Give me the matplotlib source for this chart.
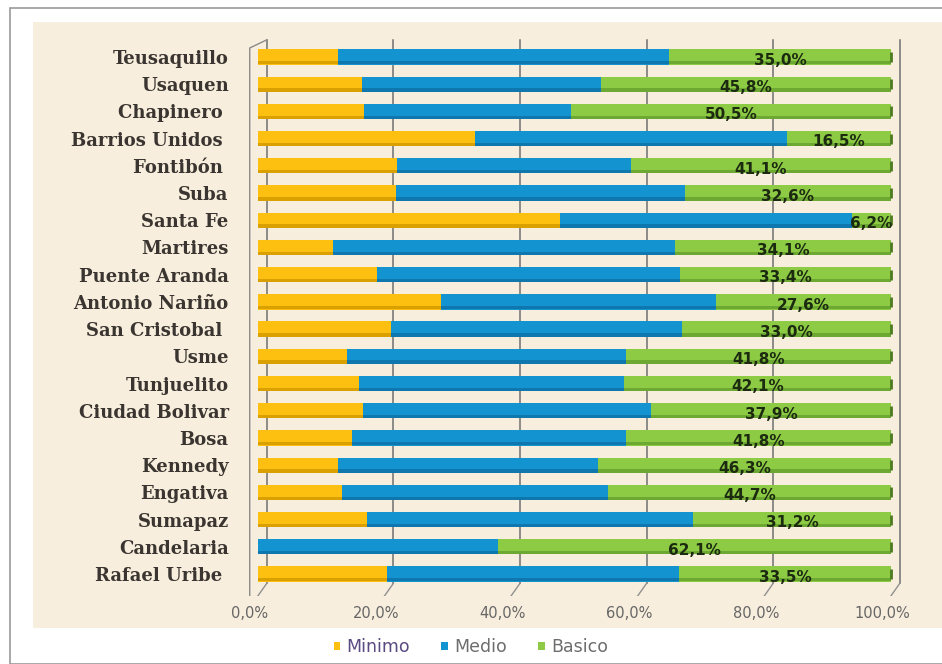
import numpy as np
import matplotlib.pyplot as plt
from matplotlib.patches import Rectangle

localidades = ['Teusaquillo', 'Usaquen', 'Chapinero ', 'Barrios Unidos ', 'Fontibón ',
               'Suba', 'Santa Fe', 'Martires', 'Puente Aranda', 'Antonio Nariño',
               'San Cristobal ', 'Usme', 'Tunjuelito', 'Ciudad Bolivar', 'Bosa',
               'Kennedy', 'Engativa', 'Sumapaz', 'Candelaria', 'Rafael Uribe ']
minimo = [12.6, 16.4, 16.7, 34.3, 21.9, 21.8, 47.7, 11.9, 18.8, 28.9,
          21.0, 14.0, 16.0, 16.6, 14.8, 12.7, 13.2, 17.2, 0.0, 20.4]
basico = [35.0, 45.8, 50.5, 16.5, 41.1, 32.6, 6.2, 34.1, 33.4, 27.6,
          33.0, 41.8, 42.1, 37.9, 41.8, 46.3, 44.7, 31.2, 62.1, 33.5]
medio = [100 - m - b for m, b in zip(minimo, basico)]
ticks = [0, 20, 40, 60, 80, 100]

c_min = '#FDC010'
c_med = '#1393D0'
c_bas = '#8DCB45'

fig = plt.figure(figsize=(9.42, 6.64), dpi=100)
# outer frame and beige panel
fig.patches.append(Rectangle((10/942, 0), 940/942, 656/664, transform=fig.transFigure,
                             facecolor='white', edgecolor='#9a9a9a', lw=1.2, zorder=-3))
fig.patches.append(Rectangle((33/942, 36/664), 909/942, 606/664, transform=fig.transFigure,
                             facecolor='#F8EEDD', edgecolor='none', zorder=-2))

ax = fig.add_axes([245.3/942, 68.2/664, 671/942, 560.6/664])
ax.set_facecolor('none')
y = np.arange(len(localidades))
h = 0.56

ax.barh(y, minimo, height=h, color=c_min, label='Minimo', zorder=3)
ax.barh(y, medio, left=minimo, height=h, color=c_med, label='Medio', zorder=3)
left_b = [m + d for m, d in zip(minimo, medio)]
ax.barh(y, basico, left=left_b, height=h, color=c_bas, label='Basico', zorder=3)
# darker lower edge to give the cylinders some depth
ax.barh(y + h * 0.38, minimo, height=h * 0.22, color='#D9A000', zorder=4)
ax.barh(y + h * 0.38, medio, left=minimo, height=h * 0.22, color='#0E77AE', zorder=4)
ax.barh(y + h * 0.38, basico, left=left_b, height=h * 0.22, color='#6DA832', zorder=4)
ax.scatter([100] * len(y), y, marker='|', s=60, color='#4E7A22', lw=2, zorder=5)

for yi, lb, b in zip(y, left_b, basico):
    ax.text(lb + b / 2, yi + 0.12, f'{b:.1f}%'.replace('.', ','), ha='center', va='center',
            fontsize=11, fontweight='bold', color='#1c2a10', zorder=6)

# 3D-style grid walls
for t in ticks:
    ax.plot([t + 1.4, t + 1.4], [-0.63, 19.34], color='#707070', lw=1.1, zorder=1)
    ax.plot([t + 1.4, t], [19.34, 19.8], color='#909090', lw=1.0, zorder=1)
ax.plot([-1.3, -1.3, 1.4], [19.8, -0.33, -0.63], color='#8a8a8a', lw=1.0, zorder=1)

ax.set_xlim(-2, 104)
ax.set_ylim(19.8, -0.8)
ax.set_yticks(y)
ax.set_yticklabels(localidades, fontsize=13, fontweight='bold', fontfamily='DejaVu Serif',
                   color='#3a3530')
# labels sit a little left of the bar positions (3D projection)
ax.set_xticks([t - 1.3 for t in ticks])
ax.set_xticklabels([f'{t:.1f}%'.replace('.', ',') for t in ticks], fontsize=10.5, color='#666666')
ax.tick_params(axis='y', length=0, pad=12)
ax.tick_params(axis='x', length=0, pad=7)
for s in ax.spines.values():
    s.set_visible(False)

leg = fig.legend(loc='center', bbox_to_anchor=(0.5, 17/664), ncol=3, frameon=False,
                 fontsize=12.5, handlelength=0.35, handleheight=0.35, handletextpad=0.4,
                 columnspacing=1.8)
for txt, col in zip(leg.get_texts(), ['#5a4a82', '#6d6d6d', '#6d6d6d']):
    txt.set_color(col)

fig.savefig('out.png', dpi=100)
